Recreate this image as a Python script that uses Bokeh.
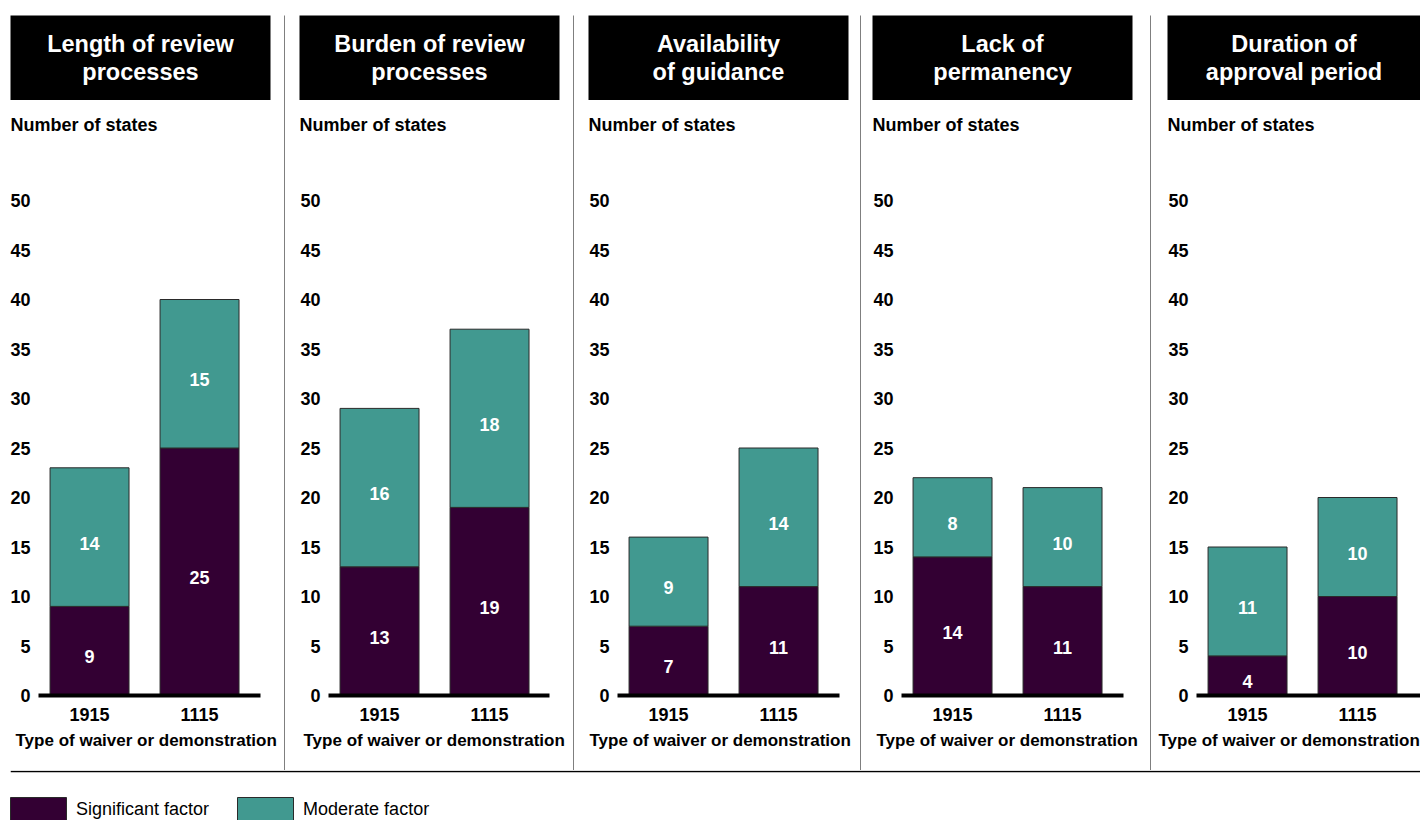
from bokeh.plotting import figure
from bokeh.layouts import row, column
from bokeh.models import (ColumnDataSource, FixedTicker, Range1d, Legend, LegendItem,
                          Title, Span)
from bokeh.embed import file_html
from bokeh.resources import INLINE
from bokeh.core.properties import value

# ---------------- data ----------------
topics = ["Length of review\nprocesses", "Burden of review\nprocesses",
          "Availability\nof guidance", "Lack of\npermanency",
          "Duration of\napproval period"]
waiver_types = ["1915", "1115"]
significant = [[9, 25], [13, 19], [7, 11], [14, 11], [4, 10]]
moderate = [[14, 15], [16, 18], [9, 14], [8, 10], [11, 10]]
y_ticks = [0, 5, 10, 15, 20, 25, 30, 35, 40, 45, 50]
y_label = "Number of states"
x_label = "Type of waiver or demonstration"
legend_labels = ["Significant factor", "Moderate factor"]

# ---------------- style / layout ----------------
SIG = "#330033"
MOD = "#419990"
EDGE = "#2a2a2a"
LINE = "#000000"
FONT = "Liberation Sans"
PX_PER_X = 110.0      # pixels per category step
PX_PER_Y = 9.9        # pixels per state
X_START = -0.464
BAR_W = 0.718
LABEL_NUDGE = 6       # px, value labels sit slightly below segment centre

# panel width, frame left inset, frame width, title box inset, box width, x-label offset
layout = [
    dict(w=284, fl=38, fw=222, bl=10, bw=260, xo=-23),
    dict(w=288, fl=43, fw=221, bl=14, bw=260, xo=-25),
    dict(w=286, fl=43, fw=222, bl=14, bw=260, xo=-28),
    dict(w=289, fl=40, fw=222, bl=11, bw=260, xo=-25),
    dict(w=269, fl=45, fw=224, bl=16, bw=253, xo=-38),
]
HEAD_TOP = 15
HEAD_H = 100
MAIN_H = 670
TOP_B = 39
BOT_B = 75
LEG_H = 50


def header(i, L):
    p = figure(width=L["w"], height=HEAD_H, x_range=Range1d(0, 1), y_range=Range1d(0, 1),
               x_axis_type=None, y_axis_type=None, toolbar_location=None,
               output_backend="svg", min_border_left=L["bl"],
               min_border_right=L["w"] - L["bl"] - L["bw"], min_border_top=HEAD_TOP,
               min_border_bottom=0, background_fill_color="black",
               border_fill_color="white", outline_line_color=None, frame_align=False)
    src = ColumnDataSource(dict(x=[0.5], y=[0.5], t=[topics[i]]))
    p.text(x="x", y="y", text="t", source=src, text_color="white",
           text_font=value(FONT), text_font_style="bold", text_font_size="23.5px",
           text_align="center", text_baseline="middle", text_line_height=1.04)
    return p


def panel(i, L):
    frame_h = MAIN_H - TOP_B - BOT_B
    p = figure(width=L["w"], height=MAIN_H,
               x_range=Range1d(X_START, X_START + L["fw"] / PX_PER_X),
               y_range=Range1d(0, frame_h / PX_PER_Y),
               toolbar_location=None, output_backend="svg",
               min_border_left=L["fl"], min_border_right=L["w"] - L["fl"] - L["fw"],
               min_border_top=TOP_B, min_border_bottom=BOT_B,
               outline_line_color=None, background_fill_color="white",
               border_fill_color="white", frame_align=False)
    p.grid.visible = False
    sig = significant[i]
    mod = moderate[i]
    src = ColumnDataSource(dict(x=[0, 1], sig=sig, mod=mod))
    p.vbar_stack(["sig", "mod"], x="x", width=BAR_W, source=src,
                 color=[SIG, MOD], line_color=EDGE, line_width=1)
    lab_x = [0, 1, 0, 1]
    lab_y = [sig[0] / 2, sig[1] / 2, sig[0] + mod[0] / 2, sig[1] + mod[1] / 2]
    lab_t = [str(sig[0]), str(sig[1]), str(mod[0]), str(mod[1])]
    lsrc = ColumnDataSource(dict(x=lab_x, y=lab_y, t=lab_t))
    p.text(x="x", y="y", text="t", source=lsrc, text_color="white",
           text_font=value(FONT), text_font_style="bold", text_font_size="18px",
           text_align="center", text_baseline="middle", y_offset=LABEL_NUDGE)

    # y axis
    p.yaxis.ticker = FixedTicker(ticks=y_ticks)
    p.yaxis.axis_line_color = None
    p.yaxis.major_tick_line_color = None
    p.yaxis.minor_tick_line_color = None
    p.yaxis.major_tick_out = 0
    p.yaxis.major_tick_in = 0
    p.yaxis.minor_tick_out = 0
    p.yaxis.major_label_standoff = 8
    p.yaxis.major_label_text_font = FONT
    p.yaxis.major_label_text_font_style = "bold"
    p.yaxis.major_label_text_font_size = "18px"
    p.yaxis.major_label_text_color = "black"

    # x axis
    p.xaxis.ticker = FixedTicker(ticks=[0, 1])
    p.xaxis.major_label_overrides = {0: waiver_types[0], 1: waiver_types[1]}
    p.xaxis.axis_line_color = "black"
    p.xaxis.axis_line_width = 4
    p.xaxis.major_tick_line_color = None
    p.xaxis.minor_tick_line_color = None
    p.xaxis.major_label_standoff = 6
    p.xaxis.major_label_text_font = FONT
    p.xaxis.major_label_text_font_style = "bold"
    p.xaxis.major_label_text_font_size = "18px"
    p.xaxis.major_label_text_color = "black"

    # y label on top
    p.title.text = y_label
    p.title.align = "left"
    p.title.offset = L["bl"] - L["fl"]
    p.title.text_font = FONT
    p.title.text_font_style = "bold"
    p.title.text_font_size = "18px"
    p.title.text_color = "black"

    # x label below
    xt = Title(text=x_label, align="left", offset=L["xo"], text_font=FONT,
               text_font_style="bold", text_font_size="17px", text_color="black")
    p.add_layout(xt, "below")
    return p


def separator():
    p = figure(width=1, height=HEAD_H + MAIN_H, x_axis_type=None, y_axis_type=None,
               toolbar_location=None, output_backend="svg",
               min_border_left=0, min_border_right=0, min_border_top=HEAD_TOP,
               min_border_bottom=0, background_fill_color=LINE,
               border_fill_color="white", outline_line_color=None, frame_align=False)
    return p


items = []
for i, L in enumerate(layout):
    items.append(column(header(i, L), panel(i, L), spacing=0))
    if i < len(layout) - 1:
        items.append(separator())
top = row(*items, spacing=0)

TOTAL_W = sum(L["w"] for L in layout) + len(layout) - 1

# bottom strip: rule line + legend
leg = figure(width=TOTAL_W, height=LEG_H, x_range=Range1d(0, 1), y_range=Range1d(0, LEG_H),
             x_axis_type=None, y_axis_type=None, toolbar_location=None,
             output_backend="svg", min_border_left=10, min_border_right=0,
             min_border_top=0, min_border_bottom=0, outline_line_color=None,
             border_fill_color="white", background_fill_color="white",
             frame_align=False)
leg.add_layout(Span(location=LEG_H - 1, dimension="width", line_color=LINE,
                    line_width=1.3))
hidden = ColumnDataSource(dict(x=[5], top=[1]))
r1 = leg.vbar(x="x", top="top", width=0.1, source=hidden, fill_color=SIG, line_color=EDGE)
r2 = leg.vbar(x="x", top="top", width=0.1, source=hidden, fill_color=MOD, line_color=EDGE)
legend = Legend(items=[LegendItem(label=legend_labels[0], renderers=[r1]),
                       LegendItem(label=legend_labels[1], renderers=[r2])],
                orientation="horizontal", location=(-7, -4), margin=0, padding=0,
                spacing=21, glyph_width=70, glyph_height=30, label_standoff=3,
                label_height=30, label_text_font=FONT, label_text_font_size="18px",
                label_text_color="black", border_line_color=None,
                background_fill_alpha=0)
leg.add_layout(legend)

page = column(top, leg, spacing=0)

with open("out.html", "w") as f:
    f.write(file_html(page, INLINE))
